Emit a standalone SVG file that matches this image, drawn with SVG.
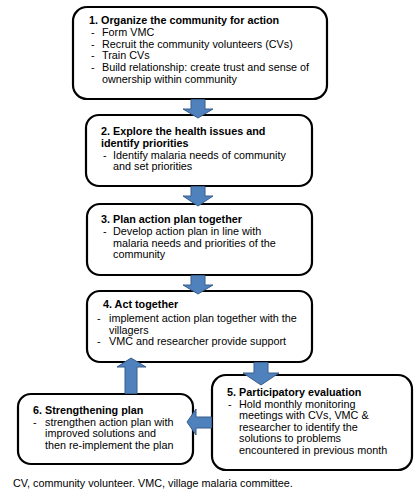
<svg xmlns="http://www.w3.org/2000/svg" width="420" height="497" viewBox="0 0 420 497">
<style>
.box{fill:#fff;stroke:#000;stroke-width:2.2}
.arr{fill:#4F81BD;stroke:#385D8A;stroke-width:1}
text{font-family:"Liberation Sans",Arial,sans-serif;font-size:10.8px;fill:#000}
.t{font-weight:bold}
</style>
<rect width="420" height="497" fill="#fff"/>
<g id="node1">
<rect class="box" x="73" y="7" width="254" height="92" rx="14"/>
<text class="t" x="89" y="24">1. Organize the community for action</text>
<text x="91" y="36">-</text><text x="102" y="36">Form VMC</text>
<text x="91" y="47.7">-</text><text x="102" y="47.7">Recruit the community volunteers (CVs)</text>
<text x="91" y="59.4">-</text><text x="102" y="59.4">Train CVs</text>
<text x="91" y="71.1">-</text><text x="102" y="71.1">Build relationship: create trust and sense of</text>
<text x="102" y="82.8">ownership within community</text>
</g>
<g id="node2">
<rect class="box" x="86" y="115" width="226" height="71" rx="13"/>
<text class="t" x="101" y="135">2. Explore the health issues and</text>
<text class="t" x="101" y="146.5">identify priorities</text>
<text x="103" y="158.5">-</text><text x="113" y="158.5">Identify malaria needs of community</text>
<text x="113" y="170">and set priorities</text>
</g>
<g id="node3">
<rect class="box" x="87" y="204" width="225" height="71" rx="13"/>
<text class="t" x="101" y="223">3. Plan action plan together</text>
<text x="103" y="235">-</text><text x="113" y="235">Develop action plan in line with</text>
<text x="113" y="246.5">malaria needs and priorities of the</text>
<text x="113" y="258">community</text>
</g>
<g id="node4">
<rect class="box" x="87" y="291" width="225" height="71" rx="13"/>
<text class="t" x="103" y="308">4. Act together</text>
<text x="97" y="322">-</text><text x="109" y="322">implement action plan together with the</text>
<text x="109" y="333.5">villagers</text>
<text x="97" y="345">-</text><text x="109" y="345">VMC and researcher provide support</text>
</g>
<g id="node5">
<rect class="box" x="212" y="375" width="200" height="95" rx="14"/>
<text class="t" x="227" y="396">5. Participatory evaluation</text>
<text x="228" y="407.5">-</text><text x="239" y="407.5">Hold monthly monitoring</text>
<text x="239" y="419">meetings with CVs, VMC &amp;</text>
<text x="239" y="430.5">researcher to identify the</text>
<text x="239" y="442">solutions to problems</text>
<text x="239" y="454">encountered in previous month</text>
</g>
<g id="node6">
<rect class="box" x="18" y="394" width="175" height="70" rx="13"/>
<text class="t" x="33" y="414">6. Strengthening plan</text>
<text x="33" y="425.5">-</text><text x="45" y="425.5">strengthen action plan with</text>
<text x="45" y="437">improved solutions and</text>
<text x="45" y="449">then re-implement the plan</text>
</g>
<g id="connectors">
<path class="arr" d="M191,99.5 H205 V109 H213 L198,118 L183,109 H191 Z"/>
<path class="arr" d="M191,186.5 H205 V196 H213 L198,206 L183,196 H191 Z"/>
<path class="arr" d="M191,275.5 H205 V285 H213 L198,294 L183,285 H191 Z"/>
<path class="arr" d="M254,362.5 H268 V373 H279 L261,385 L243,373 H254 Z"/>
<path class="arr" d="M125,393.5 V367 H117 L131,358 L146,367 H137 V393.5 Z"/>
<path class="arr" d="M211.5,417 H196 V409 L187,422 L196,435 V428 H211.5 Z"/>
</g>
<text x="13" y="487">CV, community volunteer. VMC, village malaria committee.</text>
</svg>
